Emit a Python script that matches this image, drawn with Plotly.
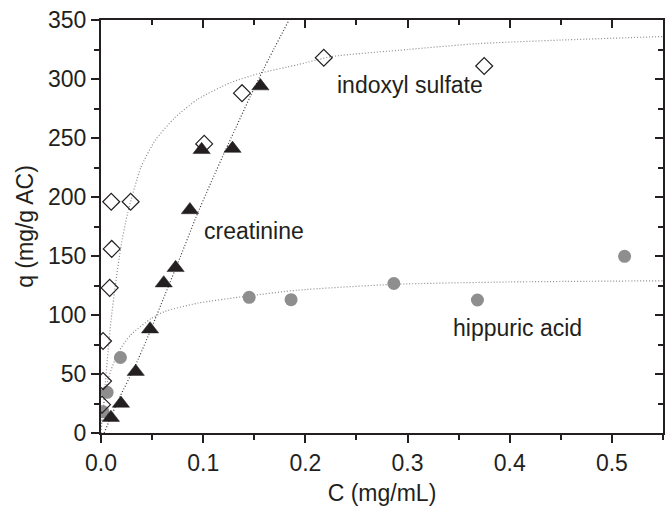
import plotly.graph_objects as go

# ---- data ----
is_c = [0.001, 0.002, 0.002, 0.0085, 0.0105, 0.010, 0.029, 0.101, 0.138, 0.218, 0.375]
is_q = [24, 44, 78, 123, 156, 196, 196, 245, 288, 318, 311]

cr_c = [0.0097, 0.0195, 0.034, 0.048, 0.0614, 0.073, 0.087, 0.0985, 0.1287, 0.156]
cr_q = [13, 25, 52, 88, 127, 140, 189, 240, 241, 294]

ha_c = [0.002, 0.006, 0.019, 0.145, 0.186, 0.2866, 0.3684, 0.5124]
ha_q = [18, 34.5, 64, 115, 113, 126.7, 112.7, 149.7]

# fitted curves
is_fit_c = [0.0, 0.004, 0.007, 0.010, 0.014, 0.0195, 0.026, 0.039, 0.053, 0.072, 0.095,
            0.127, 0.156, 0.192, 0.226, 0.30, 0.369, 0.45, 0.55]
is_fit_q = [0, 40, 70, 97, 125, 158, 186, 225, 248, 267, 283, 297, 305, 312, 319, 325, 330, 333, 336]

cr_fit_c = [0.003, 0.017, 0.033, 0.048, 0.063, 0.078, 0.093, 0.108, 0.122, 0.146, 0.160, 0.184]
cr_fit_q = [0, 28, 56, 86, 118, 150, 183, 213, 240, 285, 310, 350]

ha_fit_c = [0.0, 0.0068, 0.0166, 0.029, 0.049, 0.0624, 0.0945, 0.143, 0.192, 0.287, 0.40, 0.55]
ha_fit_q = [5, 45, 68, 83, 97, 103, 110, 116, 121, 126, 128, 129]

x_ticks = [0.0, 0.1, 0.2, 0.3, 0.4, 0.5]
x_tick_labels = ["0.0", "0.1", "0.2", "0.3", "0.4", "0.5"]
y_ticks = [0, 50, 100, 150, 200, 250, 300, 350]

FONT = "Liberation Sans, Arial, sans-serif"
TXT = "#231f20"
DOT = "1px,2px"

fig = go.Figure()

fig.add_trace(go.Scatter(x=is_fit_c, y=is_fit_q, mode="lines", line=dict(color="#8a8a8a", width=1.2, dash=DOT, shape="spline", smoothing=0.6), hoverinfo="skip", showlegend=False))
fig.add_trace(go.Scatter(x=cr_fit_c, y=cr_fit_q, mode="lines", line=dict(color="#3a3a3a", width=1.2, dash=DOT, shape="spline", smoothing=0.6), hoverinfo="skip", showlegend=False))
fig.add_trace(go.Scatter(x=ha_fit_c, y=ha_fit_q, mode="lines", line=dict(color="#8a8a8a", width=1.2, dash=DOT, shape="spline", smoothing=0.6), hoverinfo="skip", showlegend=False))

fig.add_trace(go.Scatter(x=ha_c, y=ha_q, mode="markers", name="hippuric acid",
                         marker=dict(symbol="circle", size=13, color="#8e8e8e", line=dict(width=0)), showlegend=False))
fig.add_trace(go.Scatter(x=is_c, y=is_q, mode="markers", name="indoxyl sulfate",
                         marker=dict(symbol="diamond-open", size=13, color="#231f20", line=dict(width=1.2, color="#231f20")), showlegend=False))
fig.add_trace(go.Scatter(x=cr_c, y=cr_q, mode="markers", name="creatinine",
                         marker=dict(symbol="triangle-up", size=15, color="#231f20", line=dict(width=0.5, color="#231f20")), showlegend=False))

# empty trace to bring up the mirrored axes with inward ticks
fig.add_trace(go.Scatter(x=[], y=[], xaxis="x2", yaxis="y2", showlegend=False, hoverinfo="skip"))

fig.update_layout(
    width=672, height=509,
    margin=dict(l=101, r=7, t=17, b=76),
    paper_bgcolor="white", plot_bgcolor="white",
    font=dict(family=FONT, size=23, color=TXT),
    xaxis=dict(range=[0, 0.55], tickvals=x_ticks, ticktext=x_tick_labels,
               ticks="outside", ticklen=8, tickwidth=1.5, tickcolor=TXT,
               minor=dict(dtick=0.05, tick0=0, ticks="outside", ticklen=5, tickwidth=1.5, tickcolor=TXT),
               showline=True, linewidth=2, linecolor=TXT, mirror=True,
               showgrid=False, zeroline=False,
               title=dict(text="C (mg/mL)", font=dict(size=23), standoff=10),
               tickfont=dict(size=23)),
    yaxis=dict(range=[0, 350], tickvals=y_ticks,
               ticks="outside", ticklen=8, tickwidth=1.5, tickcolor=TXT,
               minor=dict(dtick=25, tick0=0, ticks="outside", ticklen=5, tickwidth=1.5, tickcolor=TXT),
               showline=True, linewidth=2, linecolor=TXT, mirror=True,
               showgrid=False, zeroline=False,
               title=dict(text="q (mg/g AC)", font=dict(size=23), standoff=8),
               tickfont=dict(size=23)),
    xaxis2=dict(range=[0, 0.55], overlaying="x", side="top", anchor="y2",
                tickvals=x_ticks, ticks="inside", ticklen=8, tickwidth=1.5, tickcolor=TXT,
                minor=dict(dtick=0.05, tick0=0, ticks="inside", ticklen=5, tickwidth=1.5, tickcolor=TXT),
                showticklabels=False, showline=False, showgrid=False, zeroline=False),
    yaxis2=dict(range=[0, 350], overlaying="y", side="right", anchor="x2",
                tickvals=y_ticks, ticks="inside", ticklen=8, tickwidth=1.5, tickcolor=TXT,
                minor=dict(dtick=25, tick0=0, ticks="inside", ticklen=5, tickwidth=1.5, tickcolor=TXT),
                showticklabels=False, showline=False, showgrid=False, zeroline=False),
    annotations=[
        dict(x=0.3026, y=295, xref="x", yref="y", text="indoxyl sulfate", showarrow=False,
             font=dict(size=23, color=TXT)),
        dict(x=0.1496, y=171, xref="x", yref="y", text="creatinine", showarrow=False,
             font=dict(size=23, color=TXT)),
        dict(x=0.408, y=89, xref="x", yref="y", text="hippuric acid", showarrow=False,
             font=dict(size=23, color=TXT)),
    ],
)

fig.write_html("out.html")
